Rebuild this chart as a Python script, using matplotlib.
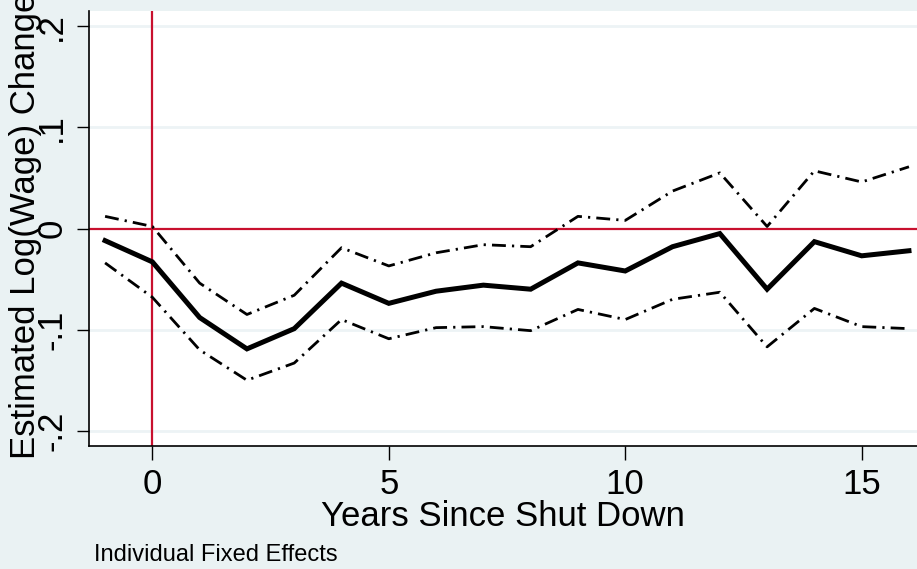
import matplotlib.pyplot as plt

plt.rcParams['font.family'] = ['Liberation Sans', 'DejaVu Sans']

# years since shut down
years = list(range(-1, 17))
# point estimate and 95% bounds
estimate = [-0.012, -0.033, -0.088, -0.119, -0.099, -0.054, -0.074, -0.062, -0.056,
            -0.060, -0.034, -0.042, -0.018, -0.005, -0.060, -0.013, -0.027, -0.022]
upper = [0.012, 0.002, -0.054, -0.085, -0.066, -0.019, -0.037, -0.024, -0.016,
         -0.018, 0.012, 0.008, 0.037, 0.055, 0.002, 0.057, 0.046, 0.061]
lower = [-0.034, -0.068, -0.120, -0.150, -0.133, -0.090, -0.109, -0.098, -0.097,
         -0.101, -0.080, -0.090, -0.070, -0.063, -0.117, -0.079, -0.097, -0.099]

bg = '#eaf2f3'
red = '#c8102e'

fig = plt.figure(figsize=(9.17, 5.69), dpi=100, facecolor=bg)
ax = fig.add_axes([89 / 917, 1 - 446 / 569, 1 - 89 / 917, (446 - 11) / 569])
ax.set_facecolor('white')

for g in [-0.2, -0.1, 0.1, 0.2]:
    ax.axhline(g, color='#edf3f5', lw=2, zorder=0)

ax.axhline(0, color=red, lw=1.6, zorder=1)
ax.axvline(0, color=red, lw=1.6, zorder=1)

dd = (0, (5, 2.2, 0.8, 2.2))
ax.plot(years, upper, color='black', lw=2, ls=dd, zorder=2)
ax.plot(years, lower, color='black', lw=2, ls=dd, zorder=2)
ax.plot(years, estimate, color='black', lw=3.6, zorder=3, solid_joinstyle='miter')

ax.set_xlim(-1.34, 16.17)
ax.set_ylim(-0.215, 0.215)

ax.spines['top'].set_visible(False)
ax.spines['right'].set_visible(False)
ax.spines['left'].set_linewidth(1.2)
ax.spines['bottom'].set_linewidth(1.2)

ax.set_xticks([0, 5, 10, 15])
ax.set_xticklabels(['0', '5', '10', '15'], fontsize=25)
ax.set_yticks([-0.2, -0.1, 0, 0.1, 0.2])
ax.set_yticklabels(['-.2', '-.1', '0', '.1', '.2'], fontsize=25, rotation=90, va='center')
ax.tick_params(axis='x', length=10, width=1, pad=6)
ax.tick_params(axis='y', length=9, width=1, pad=6)

fig.text(503 / 917, 1 - 517 / 569, 'Years Since Shut Down', fontsize=25,
         ha='center', va='center')
fig.text(26 / 917, 1 - 226 / 569, 'Estimated Log(Wage) Change', fontsize=25,
         rotation=90, ha='center', va='center')

fig.text(94 / 917, 1 - 555 / 569, 'Individual Fixed Effects', fontsize=17, va='center')

fig.savefig('out.png', dpi=100, facecolor=bg)
